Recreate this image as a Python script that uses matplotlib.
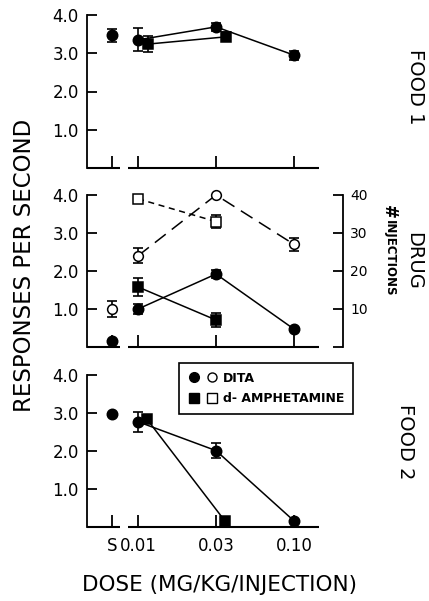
import matplotlib.pyplot as plt
import numpy as np
from matplotlib.lines import Line2D
from matplotlib.legend_handler import HandlerTuple

nan = np.nan

dose_labels = ['S', '0.01', '0.03', '0.10']
dose_pos = [0.67, 1.0, 2.0, 3.0]  # S sits left of the axis break

# FOOD 1 (responses/s)
food1_dita = [3.47, 3.35, 3.69, 2.95]
food1_dita_err = [0.17, 0.30, 0.10, 0.12]
food1_amph = [nan, 3.24, 3.43, nan]
food1_amph_err = [0, 0.20, 0.12, 0]

# DRUG (responses/s)
drug_dita = [0.16, 1.0, 1.92, 0.47]
drug_dita_err = [0, 0.12, 0.10, 0.06]
drug_amph = [nan, 1.58, 0.71, nan]
drug_amph_err = [0, 0.23, 0.18, 0]

# DRUG (# injections, right axis)
inj_dita = [10, 24, 40, 27]
inj_dita_err = [2.2, 2.0, 0, 1.7]
inj_amph = [nan, 39, 33, nan]
inj_amph_err = [0, 0, 1.7, 0]

# FOOD 2 (responses/s)
food2_dita = [2.97, 2.77, 2.01, 0.16]
food2_dita_err = [0, 0.26, 0.20, 0]
food2_amph = [nan, 2.85, 0.17, nan]
food2_amph_err = [0, 0.05, 0, 0]

W, H = 429, 601
fig = plt.figure(figsize=(W / 100, H / 100), dpi=100)

XL, XR = 0.346, 3.628


def px_axes(y_top, y_bot):
    return fig.add_axes([87 / W, 1 - y_bot / H, (343 - 87) / W, (y_bot - y_top) / H])


def setup(ax, show_labels=False):
    ax.set_xlim(XL, XR)
    ax.set_ylim(0, 4)
    for s in ['top', 'right', 'bottom']:
        ax.spines[s].set_visible(False)
    ax.spines['left'].set_linewidth(1.3)
    ax.set_yticks([1, 2, 3, 4])
    ax.set_yticklabels(['1.0', '2.0', '3.0', '4.0'])
    ax.tick_params(axis='y', direction='in', length=7, width=1.3, labelsize=12, pad=6)
    ax.set_xticks(dose_pos)
    ax.tick_params(axis='x', direction='in', length=9, width=1.3, labelsize=12, pad=7,
                   labelbottom=show_labels)
    if show_labels:
        ax.set_xticklabels(dose_labels)
    # broken baseline
    ax.plot([XL, 0.77], [0, 0], color='k', lw=1.5, clip_on=False, solid_capstyle='butt')
    ax.plot([0.87, 3.32], [0, 0], color='k', lw=1.5, clip_on=False, solid_capstyle='butt')


def series(ax, y, err, marker, filled=True, ls='-', dx=0.0, ms=7.5, dashes=None):
    x = np.array(dose_pos) + dx
    y = np.array(y, dtype=float)
    ax.errorbar(x, y, yerr=err, fmt='none', ecolor='k', elinewidth=1.2,
                capsize=3.5, capthick=1.2, zorder=2, clip_on=False)
    line, = ax.plot(x[1:], y[1:], color='k', ls=ls, lw=1.1, zorder=1, clip_on=False)
    if dashes is not None:
        line.set_dashes(dashes)
    ax.plot(x, y, marker, ls='none', ms=ms, mfc='k' if filled else 'white',
            mec='k', mew=1.1, zorder=3, clip_on=False)


# FOOD 1
ax1 = px_axes(15, 168)
setup(ax1)
series(ax1, food1_dita, food1_dita_err, 'o')
series(ax1, food1_amph, food1_amph_err, 's', dx=0.13)

# DRUG
ax2 = px_axes(195, 347)
setup(ax2)
series(ax2, drug_dita, drug_dita_err, 'o')
series(ax2, drug_amph, drug_amph_err, 's')
ax2r = ax2.twinx()
ax2r.set_position(ax2.get_position())
ax2r.set_ylim(0, 40)
for s in ['top', 'left', 'bottom']:
    ax2r.spines[s].set_visible(False)
ax2r.spines['right'].set_linewidth(1.3)
ax2r.set_yticks([0, 10, 20, 30, 40])
ax2r.set_yticklabels(['', '10', '20', '30', '40'])
ax2r.tick_params(axis='y', direction='in', length=7, width=1.3, labelsize=10, pad=5)
series(ax2r, inj_dita, inj_dita_err, 'o', filled=False, ms=7, dashes=(9, 5))
series(ax2r, inj_amph, inj_amph_err, 's', filled=False, ms=7, dashes=(4, 3))

# FOOD 2
ax3 = px_axes(375, 527)
setup(ax3, show_labels=True)
series(ax3, food2_dita, food2_dita_err, 'o')
series(ax3, food2_amph, food2_amph_err, 's', dx=0.11)

h_dita = (Line2D([], [], marker='o', ls='none', color='k', ms=7),
          Line2D([], [], marker='o', ls='none', mfc='white', mec='k', ms=6.5))
h_amph = (Line2D([], [], marker='s', ls='none', color='k', ms=7),
          Line2D([], [], marker='s', ls='none', mfc='white', mec='k', ms=6.5))
leg = ax3.legend([h_dita, h_amph], ['DITA', 'd- AMPHETAMINE'],
                 handler_map={tuple: HandlerTuple(ndivide=None, pad=0.5)},
                 loc='upper right', bbox_to_anchor=(1.039, 1.079), borderaxespad=0,
                 fancybox=False, edgecolor='k', framealpha=1, handlelength=2.4,
                 handletextpad=0.4, borderpad=0.7, labelspacing=0.6,
                 prop={'size': 9, 'weight': 'bold'})
leg.get_frame().set_linewidth(1.2)

# labels
fig.text(25 / W, 1 - 265 / H, 'RESPONSES PER SECOND', rotation=90,
         ha='center', va='center', fontsize=16.5)
fig.text(220 / W, 1 - 585 / H, 'DOSE (MG/KG/INJECTION)',
         ha='center', va='center', fontsize=15.5)
fig.text(415 / W, 1 - 87 / H, 'FOOD 1', rotation=-90, ha='center', va='center', fontsize=14)
fig.text(414 / W, 1 - 261 / H, 'DRUG', rotation=-90, ha='center', va='center', fontsize=14)
fig.text(405 / W, 1 - 442 / H, 'FOOD 2', rotation=-90, ha='center', va='center', fontsize=14)
fig.text(389 / W, 1 - 212 / H, '#', rotation=-90, ha='center', va='center',
         fontsize=12, fontweight='bold')
fig.text(389 / W, 1 - 258 / H, 'INJECTIONS', rotation=-90, ha='center', va='center',
         fontsize=8.5, fontweight='bold')

fig.savefig('out.png', dpi=100)
